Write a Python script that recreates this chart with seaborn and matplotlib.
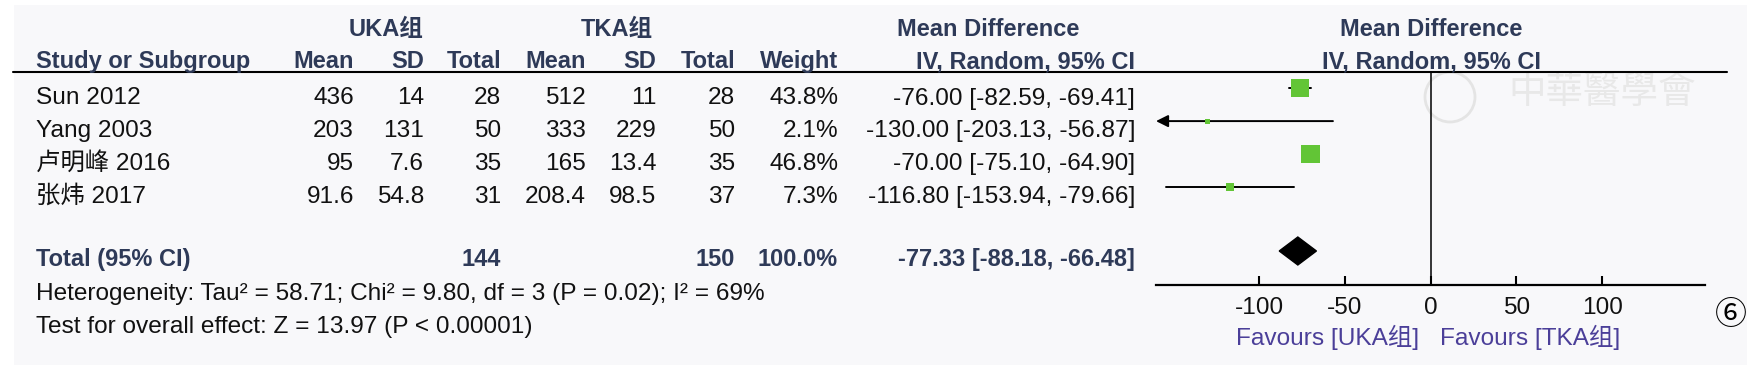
import numpy as np
import pandas as pd
import seaborn as sns
import matplotlib.pyplot as plt
from matplotlib.lines import Line2D
from matplotlib.patches import Rectangle, Ellipse

studies = ['Sun 2012', 'Yang 2003', '卢明峰 2016', '张炜 2017']
uka_mean = [436, 203, 95, 91.6]
uka_sd = [14, 131, 7.6, 54.8]
uka_n = [28, 50, 35, 31]
tka_mean = [512, 333, 165, 208.4]
tka_sd = [11, 229, 13.4, 98.5]
tka_n = [28, 50, 35, 37]
weights = [43.8, 2.1, 46.8, 7.3]
md = [-76.00, -130.00, -70.00, -116.80]
ci_lo = [-82.59, -203.13, -75.10, -153.94]
ci_hi = [-69.41, -56.87, -64.90, -79.66]
total_n = [144, 150]
total_md, total_lo, total_hi = -77.33, -88.18, -66.48
ticks = [-100, -50, 0, 50, 100]
tick_labels = ['-100', '-50', '0', '50', '100']

W, H = 1760, 366
HEAD = '#2e3a58'
FAV = '#4b3f99'
GREEN = '#62c536'
BODY = 17.6
BOLD = 17.0
ROW0, STEP = 88.3, 32.8   # pixel y of first row and row spacing

sns.set_theme(style='white')
plt.rcParams['font.family'] = ['Liberation Sans', 'Noto Sans CJK SC']
plt.rcParams['axes.unicode_minus'] = False

fig = plt.figure(figsize=(W / 100, H / 100), dpi=100)
fig.patch.set_facecolor('white')
fig.add_artist(Rectangle((14 / W, 1 - 365 / H), (1747 - 14) / W, 360 / H,
                         transform=fig.transFigure, facecolor='#f8f8fa',
                         edgecolor='none', zorder=-10))


def txt(x, y, s, ha='right', bold=False, color='#111111', size=None, **kw):
    fs = size if size else (BOLD if bold else BODY)
    fig.text(x / W, 1 - y / H, s, ha=ha, va='baseline', fontsize=fs,
             fontweight='bold' if bold else 'normal', color=color, **kw)


# headers
txt(386, 36, 'UKA组', ha='center', bold=True, color=HEAD)
txt(617, 36, 'TKA组', ha='center', bold=True, color=HEAD)
txt(988, 36, 'Mean Difference', ha='center', bold=True, color=HEAD)
txt(1431, 36, 'Mean Difference', ha='center', bold=True, color=HEAD)
hdr = [(35.6, 'Study or Subgroup', 'left'), (354, 'Mean', 'right'), (424, 'SD', 'right'),
       (501, 'Total', 'right'), (586, 'Mean', 'right'), (656.5, 'SD', 'right'),
       (735, 'Total', 'right'), (838, 'Weight', 'right'),
       (1135, 'IV, Random, 95% CI', 'right'), (1431, 'IV, Random, 95% CI', 'center')]
for x, s, ha in hdr:
    txt(x, 68, s, ha=ha, bold=True, color=HEAD)

fig.add_artist(Line2D([13 / W, 1727 / W], [1 - 71.7 / H] * 2, color='black', lw=1.5,
                      transform=fig.transFigure))

# study rows
for i, name in enumerate(studies):
    y = ROW0 + 16.2 + STEP * i
    txt(35.6, y, name, ha='left')
    txt(354, y, f'{uka_mean[i]:g}')
    txt(424, y, f'{uka_sd[i]:g}')
    txt(501, y, f'{uka_n[i]}')
    txt(586, y, f'{tka_mean[i]:g}')
    txt(656.5, y, f'{tka_sd[i]:g}')
    txt(735, y, f'{tka_n[i]}')
    txt(838, y, f'{weights[i]:.1f}%')
    txt(1135, y, f'{md[i]:.2f} [{ci_lo[i]:.2f}, {ci_hi[i]:.2f}]')

txt(35.6, 266, 'Total (95% CI)', ha='left', bold=True, color=HEAD)
txt(501, 266, f'{total_n[0]}', bold=True, color=HEAD)
txt(735, 266, f'{total_n[1]}', bold=True, color=HEAD)
txt(838, 266, f'{sum(weights):.1f}%', bold=True, color=HEAD)
txt(1135, 266, f'{total_md:.2f} [{total_lo:.2f}, {total_hi:.2f}]', bold=True, color=HEAD)
txt(35.6, 300, 'Heterogeneity: Tau² = 58.71; Chi² = 9.80, df = 3 (P = 0.02); I² = 69%', ha='left')
txt(35.6, 332.5, 'Test for overall effect: Z = 13.97 (P < 0.00001)', ha='left')

# forest axes
top, bot = 71.7, 285
ax = fig.add_axes([1156 / W, 1 - bot / H, (1705 - 1156) / W, (bot - top) / H])
ax.set_facecolor('none')
ax.set_xlim(-160, 160)
ax.set_ylim((bot - ROW0) / STEP, (top - ROW0) / STEP)
rows = np.arange(len(studies))

df = pd.DataFrame({'md': md, 'row': rows, 'w': weights})
for r in rows:
    lo = ci_lo[r]
    if lo < -160:
        ax.annotate('', xy=(-160, r), xytext=(ci_hi[r], r),
                    arrowprops=dict(arrowstyle='-|>', color='black', lw=1.4,
                                    mutation_scale=18, shrinkA=0, shrinkB=0))
    else:
        ax.plot([lo, ci_hi[r]], [r, r], color='black', lw=1.4, zorder=2)
sns.scatterplot(data=df, x='md', y='row', size='w', sizes=(12, 180), marker='s',
                color=GREEN, linewidth=0, legend=False, ax=ax, zorder=3)

ty = (251 - ROW0) / STEP
hh = 14 / STEP
ax.fill([total_lo, total_md, total_hi, total_md], [ty, ty - hh, ty, ty + hh],
        color='black', zorder=3)
ax.axvline(0, color='black', lw=1.1, zorder=1)

for s in ['top', 'right', 'left']:
    ax.spines[s].set_visible(False)
ax.spines['bottom'].set_color('black')
ax.spines['bottom'].set_linewidth(1.6)
ax.set_yticks([])
ax.set_xticks(ticks)
ax.set_xticklabels(tick_labels, fontsize=BODY, color='#111111')
ax.tick_params(axis='x', direction='in', length=6.5, width=1.5, color='black',
               pad=8.5, bottom=True)
ax.set_xlabel('')
ax.set_ylabel('')

txt(1419, 345, 'Favours [UKA组]', ha='right', color=FAV)
txt(1440, 345, 'Favours [TKA组]', ha='left', color=FAV)

# watermark
fig.add_artist(Ellipse((1450 / W, 1 - 97 / H), 50 / W, 50 / H, transform=fig.transFigure,
                       fill=False, edgecolor='#e4e4e4', lw=2, zorder=0))
fig.text(1602 / W, 1 - 93 / H, '中華醫學會', ha='center', va='center', fontsize=27,
         color='#e8e8e8', family=['Noto Sans CJK TC'], zorder=0)

fig.text(1731 / W, 1 - 315 / H, '⑥', ha='center', va='center', fontsize=23,
         color='black', family=['Noto Sans CJK SC', 'DejaVu Sans'])

fig.savefig('out.png', dpi=100)
